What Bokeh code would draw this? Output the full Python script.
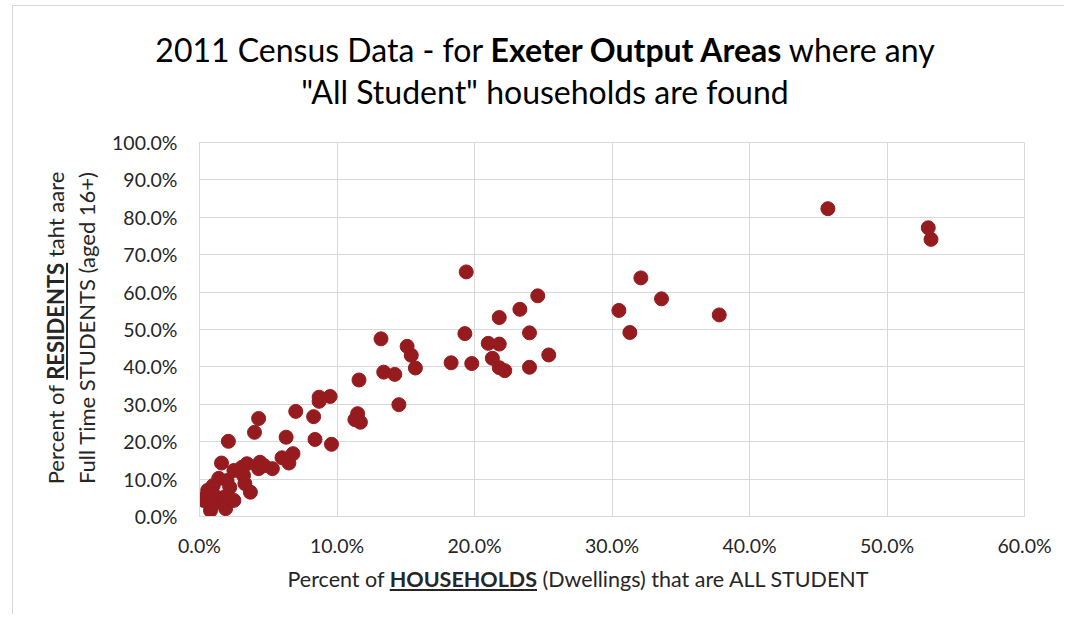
from bokeh.plotting import figure
from bokeh.models import FixedTicker, PrintfTickFormatter, Range1d, ColumnDataSource, Div
from bokeh.layouts import column, row
from bokeh.embed import file_html
from bokeh.resources import INLINE

# Percent of households that are all-student (x) vs percent of residents that are FT students (y)
households_pct = [
    45.7, 53.0, 53.2, 32.1, 33.6, 30.5, 37.8, 31.3,
    19.4, 24.6, 23.3, 21.8, 19.3, 24.0, 21.0, 21.8, 25.4, 21.3, 18.3, 19.8, 21.8, 22.2, 24.0,
    13.2, 15.1, 15.4, 15.7, 13.4, 14.2, 14.5,
    11.6, 8.7, 9.5, 8.7, 7.0, 8.3, 11.5, 11.3, 11.7, 6.3, 8.4, 9.6, 6.0, 6.8, 6.5, 5.3,
    0.3, 0.6, 0.8, 1.0, 1.2, 1.4, 1.6, 1.75, 1.9, 2.0, 2.2, 2.1, 2.5, 2.5, 3.1, 3.2, 3.3,
    3.45, 3.7, 4.0, 4.3, 4.3, 4.4, 4.7, 0.5, 1.0, 0.9,
]
residents_pct = [
    82.3, 77.2, 74.1, 63.8, 58.2, 55.1, 53.9, 49.2,
    65.4, 59.0, 55.4, 53.2, 48.9, 49.1, 46.3, 46.1, 43.2, 42.3, 41.1, 40.9, 39.8, 39.0, 39.9,
    47.5, 45.5, 43.1, 39.7, 38.6, 38.0, 29.9,
    36.5, 31.9, 32.1, 30.8, 28.1, 26.7, 27.5, 25.9, 25.2, 21.2, 20.6, 19.3, 15.7, 16.8, 14.3, 12.8,
    4.3, 7.0, 1.6, 8.3, 4.0, 10.2, 14.3, 5.1, 2.1, 9.6, 7.8, 20.1, 12.3, 4.3, 13.2, 11.0, 8.8,
    14.1, 6.5, 22.5, 26.2, 12.8, 14.5, 13.6, 5.5, 6.0, 3.0,
]
x_ticks = [0, 10, 20, 30, 40, 50, 60]
y_ticks = [0, 10, 20, 30, 40, 50, 60, 70, 80, 90, 100]

title_line1 = ("2011 Census Data - for ", "Exeter Output Areas", " where any")
title_line2 = "\"All Student\" households are found"
ylabel_line1 = ("Percent of ", "RESIDENTS", " taht aare")
ylabel_line2 = "Full Time STUDENTS (aged 16+)"
xlabel = ("Percent of ", "HOUSEHOLDS", " (Dwellings) that are ALL STUDENT")

GRID = "#D9D9D9"
TXT = "#262626"
FONT = "Lato"
DOT = "#961B1E"

TOTAL_W = 1064
TITLE_H = 120
LAB_W = 100
FIG_W, FIG_H = 964, 446
XLAB_H = 48

p = figure(width=FIG_W, height=FIG_H, output_backend="svg", toolbar_location=None,
           x_range=Range1d(0, 60), y_range=Range1d(0, 100),
           min_border_left=99, min_border_right=40, min_border_top=22, min_border_bottom=50)
p.background_fill_color = "white"
p.border_fill_color = "white"
p.outline_line_color = GRID

src = ColumnDataSource(dict(x=households_pct, y=residents_pct))
p.scatter("x", "y", source=src, size=14, fill_color=DOT, line_color=DOT)

for ax, ticks in ((p.xaxis, x_ticks), (p.yaxis, y_ticks)):
    ax.ticker = FixedTicker(ticks=ticks)
    ax.formatter = PrintfTickFormatter(format="%.1f%%")
    ax.major_tick_line_color = None
    ax.minor_tick_line_color = None
    ax.major_tick_out = 0
    ax.major_tick_in = 0
    ax.axis_line_color = GRID
    ax.major_label_text_font = FONT
    ax.major_label_text_font_size = "19.5px"
    ax.major_label_text_color = TXT
p.xaxis.major_label_standoff = 17
p.yaxis.major_label_standoff = 22

p.xgrid.ticker = FixedTicker(ticks=x_ticks)
p.ygrid.ticker = FixedTicker(ticks=y_ticks)
p.xgrid.grid_line_color = GRID
p.ygrid.grid_line_color = GRID

border_v = lambda h: (f'<div style="position:absolute;left:12px;top:0;width:0;height:{h}px;'
                      f'border-left:1px solid {GRID};"></div>')

title_html = (
    f'<div style="position:relative;width:{TOTAL_W}px;height:{TITLE_H}px;font-family:{FONT};color:#000;">'
    f'<div style="position:absolute;left:12px;top:5px;width:{TOTAL_W - 12}px;height:0;border-top:1px solid {GRID};"></div>'
    f'<div style="position:absolute;left:12px;top:5px;width:0;height:{TITLE_H - 5}px;border-left:1px solid {GRID};"></div>'
    f'<div style="position:absolute;left:545px;top:28.6px;transform:translateX(-50%);white-space:pre;'
    f'text-align:center;font-size:32px;line-height:42px;">'
    f'{title_line1[0]}<b>{title_line1[1]}</b>{title_line1[2]}<br>{title_line2}</div></div>'
)
ylab_html = (
    f'<div style="position:relative;width:{LAB_W}px;height:{FIG_H}px;font-family:{FONT};color:{TXT};">'
    + border_v(FIG_H) +
    f'<div style="position:absolute;left:71px;top:208px;transform:translate(-50%,-50%) rotate(-90deg);'
    f'white-space:pre;text-align:center;font-size:22px;line-height:31px;">'
    f'{ylabel_line1[0]}<b><u>{ylabel_line1[1]}</u></b>{ylabel_line1[2]}<br>{ylabel_line2}</div></div>'
)
xlab_html = (
    f'<div style="position:relative;width:{TOTAL_W}px;height:{XLAB_H}px;font-family:{FONT};color:{TXT};">'
    + border_v(XLAB_H) +
    f'<div style="position:absolute;left:578px;top:0px;transform:translateX(-50%);white-space:pre;'
    f'font-size:21.5px;line-height:26px;">'
    f'{xlabel[0]}<b><u>{xlabel[1]}</u></b>{xlabel[2]}</div></div>'
)

title_div = Div(text=title_html, width=TOTAL_W, height=TITLE_H, margin=0)
ylab_div = Div(text=ylab_html, width=LAB_W, height=FIG_H, margin=0)
xlab_div = Div(text=xlab_html, width=TOTAL_W, height=XLAB_H, margin=0)

layout = column(title_div, row(ylab_div, p, spacing=0), xlab_div, spacing=0)

open("out.html", "w").write(file_html(layout, INLINE))
